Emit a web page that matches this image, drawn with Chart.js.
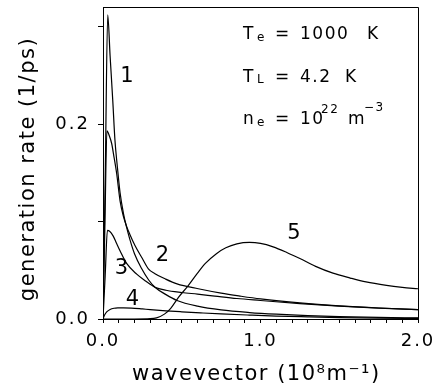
<!DOCTYPE html>
<html>
<head>
<meta charset="utf-8">
<script src="https://cdn.jsdelivr.net/npm/chart.js@4/dist/chart.umd.min.js"></script>
<style>
    body { margin: 0; background: #fff; }
    canvas { display: block; }
</style>
</head>
<body>
<canvas id="chart" width="433" height="387"></canvas>
<script>
// wavevector (1e8 1/m) and generation rate (1/ps)
const q1 = [0, 0.015, 0.03, 0.045, 0.062, 0.076, 0.09, 0.108, 0.13, 0.15, 0.17, 0.2, 0.246, 0.29, 0.33, 0.4, 0.47, 0.6, 0.75, 0.93, 1.1, 1.3, 1.5, 1.75, 2.0];
const rate1 = [0, 0.156, 0.312, 0.27, 0.224, 0.183, 0.158, 0.13, 0.108, 0.094, 0.082, 0.067, 0.0515, 0.04, 0.0326, 0.025, 0.019, 0.0132, 0.0093, 0.0066, 0.0049, 0.0035, 0.0025, 0.0016, 0.0011];

const q2 = [0, 0.012, 0.025, 0.04, 0.055, 0.07, 0.087, 0.108, 0.13, 0.15, 0.17, 0.203, 0.25, 0.288, 0.33, 0.394, 0.47, 0.605, 0.75, 0.87, 1.0, 1.25, 1.5, 1.75, 2.0];
const rate2 = [0, 0.096, 0.193, 0.188, 0.18, 0.166, 0.149, 0.1215, 0.105, 0.095, 0.087, 0.0754, 0.062, 0.0515, 0.0465, 0.0412, 0.036, 0.031, 0.0265, 0.0235, 0.0206, 0.0165, 0.0135, 0.0113, 0.0097];

const q3 = [0, 0.014, 0.028, 0.042, 0.065, 0.085, 0.108, 0.15, 0.214, 0.27, 0.33, 0.4, 0.5, 0.6, 0.71, 0.85, 1.0, 1.25, 1.5, 1.75, 2.0];
const rate3 = [0, 0.045, 0.0908, 0.09, 0.085, 0.078, 0.07, 0.057, 0.046, 0.039, 0.0326, 0.0295, 0.0272, 0.0255, 0.0235, 0.021, 0.019, 0.0158, 0.0132, 0.0112, 0.0097];

const q4 = [0, 0.01, 0.025, 0.045, 0.07, 0.1, 0.13, 0.18, 0.25, 0.3, 0.4, 0.5, 0.62, 0.75, 0.93, 1.1, 1.3, 1.5, 1.75, 2.0];
const rate4 = [0, 0.004, 0.0075, 0.0098, 0.011, 0.0114, 0.0115, 0.0112, 0.0103, 0.0096, 0.0084, 0.0074, 0.0063, 0.0052, 0.004, 0.003, 0.0022, 0.0015, 0.0009, 0.0006];

const q5 = [0, 0.2, 0.3, 0.34, 0.39, 0.43, 0.478, 0.54, 0.6, 0.65, 0.72, 0.78, 0.85, 0.93, 1.0, 1.08, 1.17, 1.25, 1.35, 1.46, 1.57, 1.67, 1.8, 1.9, 2.0];
const rate5 = [0, 0, 0.0003, 0.0012, 0.005, 0.011, 0.022, 0.034, 0.047, 0.057, 0.067, 0.073, 0.077, 0.0785, 0.0775, 0.074, 0.068, 0.062, 0.054, 0.047, 0.042, 0.038, 0.0345, 0.0325, 0.031];

const curveNames = ['1', '2', '3', '4', '5'];
const xTickLabels = [0, 1, 2];
const yTickLabels = [0, 0.2];

// where the curve numbers sit, in data units
const labelAt = [[0.152, 0.249], [0.378, 0.0653], [0.117, 0.0514], [0.187, 0.020], [1.213, 0.0879]];

const FONT = '"DejaVu Sans", sans-serif';

const series = [[q1, rate1], [q2, rate2], [q3, rate3], [q4, rate4], [q5, rate5]];
const datasets = series.map(([q, r], i) => ({
    label: curveNames[i],
    data: q.map((v, j) => ({x: v, y: r[j]})),
    borderColor: '#000',
    borderWidth: 1.2,
    pointRadius: 0,
    cubicInterpolationMode: 'monotone',
    fill: false
}));

const near = (v, list) => list.some(t => Math.abs(v - t) < 1e-6);

const refText = {
    id: 'refText',
    beforeDraw(chart) {
        chart.ctx.letterSpacing = '2px';
    },
    afterDraw(chart) {
        const {ctx, chartArea: a, scales: {x, y}} = chart;
        ctx.save();
        ctx.letterSpacing = '0px';
        ctx.strokeStyle = '#000';
        ctx.lineWidth = 1;
        ctx.beginPath();
        ctx.moveTo(Math.round(a.left), Math.round(a.top) + 0.5);
        ctx.lineTo(Math.round(a.right) + 0.5, Math.round(a.top) + 0.5);
        ctx.lineTo(Math.round(a.right) + 0.5, Math.round(a.bottom));
        ctx.stroke();

        ctx.fillStyle = '#000';

        // curve numbers
        ctx.textAlign = 'center';
        ctx.textBaseline = 'middle';
        ctx.font = '21px ' + FONT;
        labelAt.forEach(([lx, ly], i) => {
            ctx.fillText(curveNames[i], x.getPixelForValue(lx), y.getPixelForValue(ly));
        });

        // parameter block
        ctx.textAlign = 'left';
        ctx.textBaseline = 'alphabetic';
        ctx.letterSpacing = '1.5px';
        const x0 = x.getPixelForValue(0.889);
        const rows = [y.getPixelForValue(0.287), y.getPixelForValue(0.2428), y.getPixelForValue(0.1996)];
        const put = (t, dx, yy, size) => {
            ctx.font = size + 'px ' + FONT;
            ctx.fillText(t, x0 + dx, yy);
        };
        put('T', 0, rows[0], 17);
        put('e', 14, rows[0] + 2, 12);
        put('=', 32, rows[0], 17);
        put('1000', 57, rows[0], 17);
        put('K', 124, rows[0], 17);

        put('T', 0, rows[1], 17);
        put('L', 14, rows[1] + 1, 12);
        put('=', 32, rows[1], 17);
        put('4.2', 57, rows[1], 17);
        put('K', 102, rows[1], 17);

        put('n', 0, rows[2], 17);
        put('e', 14, rows[2] + 2, 12);
        put('=', 32, rows[2], 17);
        put('10', 57, rows[2], 17);
        put('22', 78, rows[2] - 11, 12);
        put('m', 105, rows[2], 17);
        put('\u22123', 121, rows[2] - 13, 12);

        // axis titles
        ctx.font = '21px ' + FONT;
        ctx.letterSpacing = '1.5px';
        ctx.fillText('wavevector (10\u2078m\u207B\u00B9)', 132, 380);

        ctx.translate(29, (a.top + a.bottom) / 2 + 6);
        ctx.rotate(-Math.PI / 2);
        ctx.textAlign = 'center';
        ctx.textBaseline = 'middle';
        ctx.fillText('generation rate (1/ps)', 0, 0);
        ctx.restore();
    }
};

new Chart(document.getElementById('chart'), {
    type: 'line',
    data: { datasets },
    options: {
        responsive: false,
        animation: false,
        events: [],
        layout: { padding: { top: 7, right: 15, left: 0, bottom: 0 } },
        plugins: {
            legend: { display: false },
            tooltip: { enabled: false }
        },
        scales: {
            x: {
                type: 'linear',
                min: 0,
                max: 2,
                afterFit: s => { s.height = 68; s.paddingLeft = 0; s.paddingRight = 0; },
                grid: { drawOnChartArea: false, drawTicks: true, tickLength: 4, color: '#000', lineWidth: 1 },
                border: { color: '#000', width: 1 },
                ticks: {
                    stepSize: 0.1,
                    autoSkip: false,
                    maxRotation: 0,
                    includeBounds: false,
                    padding: 8,
                    color: '#000',
                    font: { family: FONT, size: 18 },
                    callback: v => near(v, xTickLabels) ? v.toFixed(1) : ''
                }
            },
            y: {
                min: 0,
                max: 0.32,
                afterFit: s => { s.width = 103; s.paddingTop = 0; s.paddingBottom = 0; },
                grid: { drawOnChartArea: false, drawTicks: true, tickLength: 5, color: '#000', lineWidth: 1 },
                border: { color: '#000', width: 1 },
                ticks: {
                    stepSize: 0.1,
                    autoSkip: false,
                    includeBounds: false,
                    padding: 8,
                    color: '#000',
                    font: { family: FONT, size: 18 },
                    callback: v => near(v, yTickLabels) ? v.toFixed(1) : ''
                }
            }
        }
    },
    plugins: [refText]
});
</script>
</body>
</html>
